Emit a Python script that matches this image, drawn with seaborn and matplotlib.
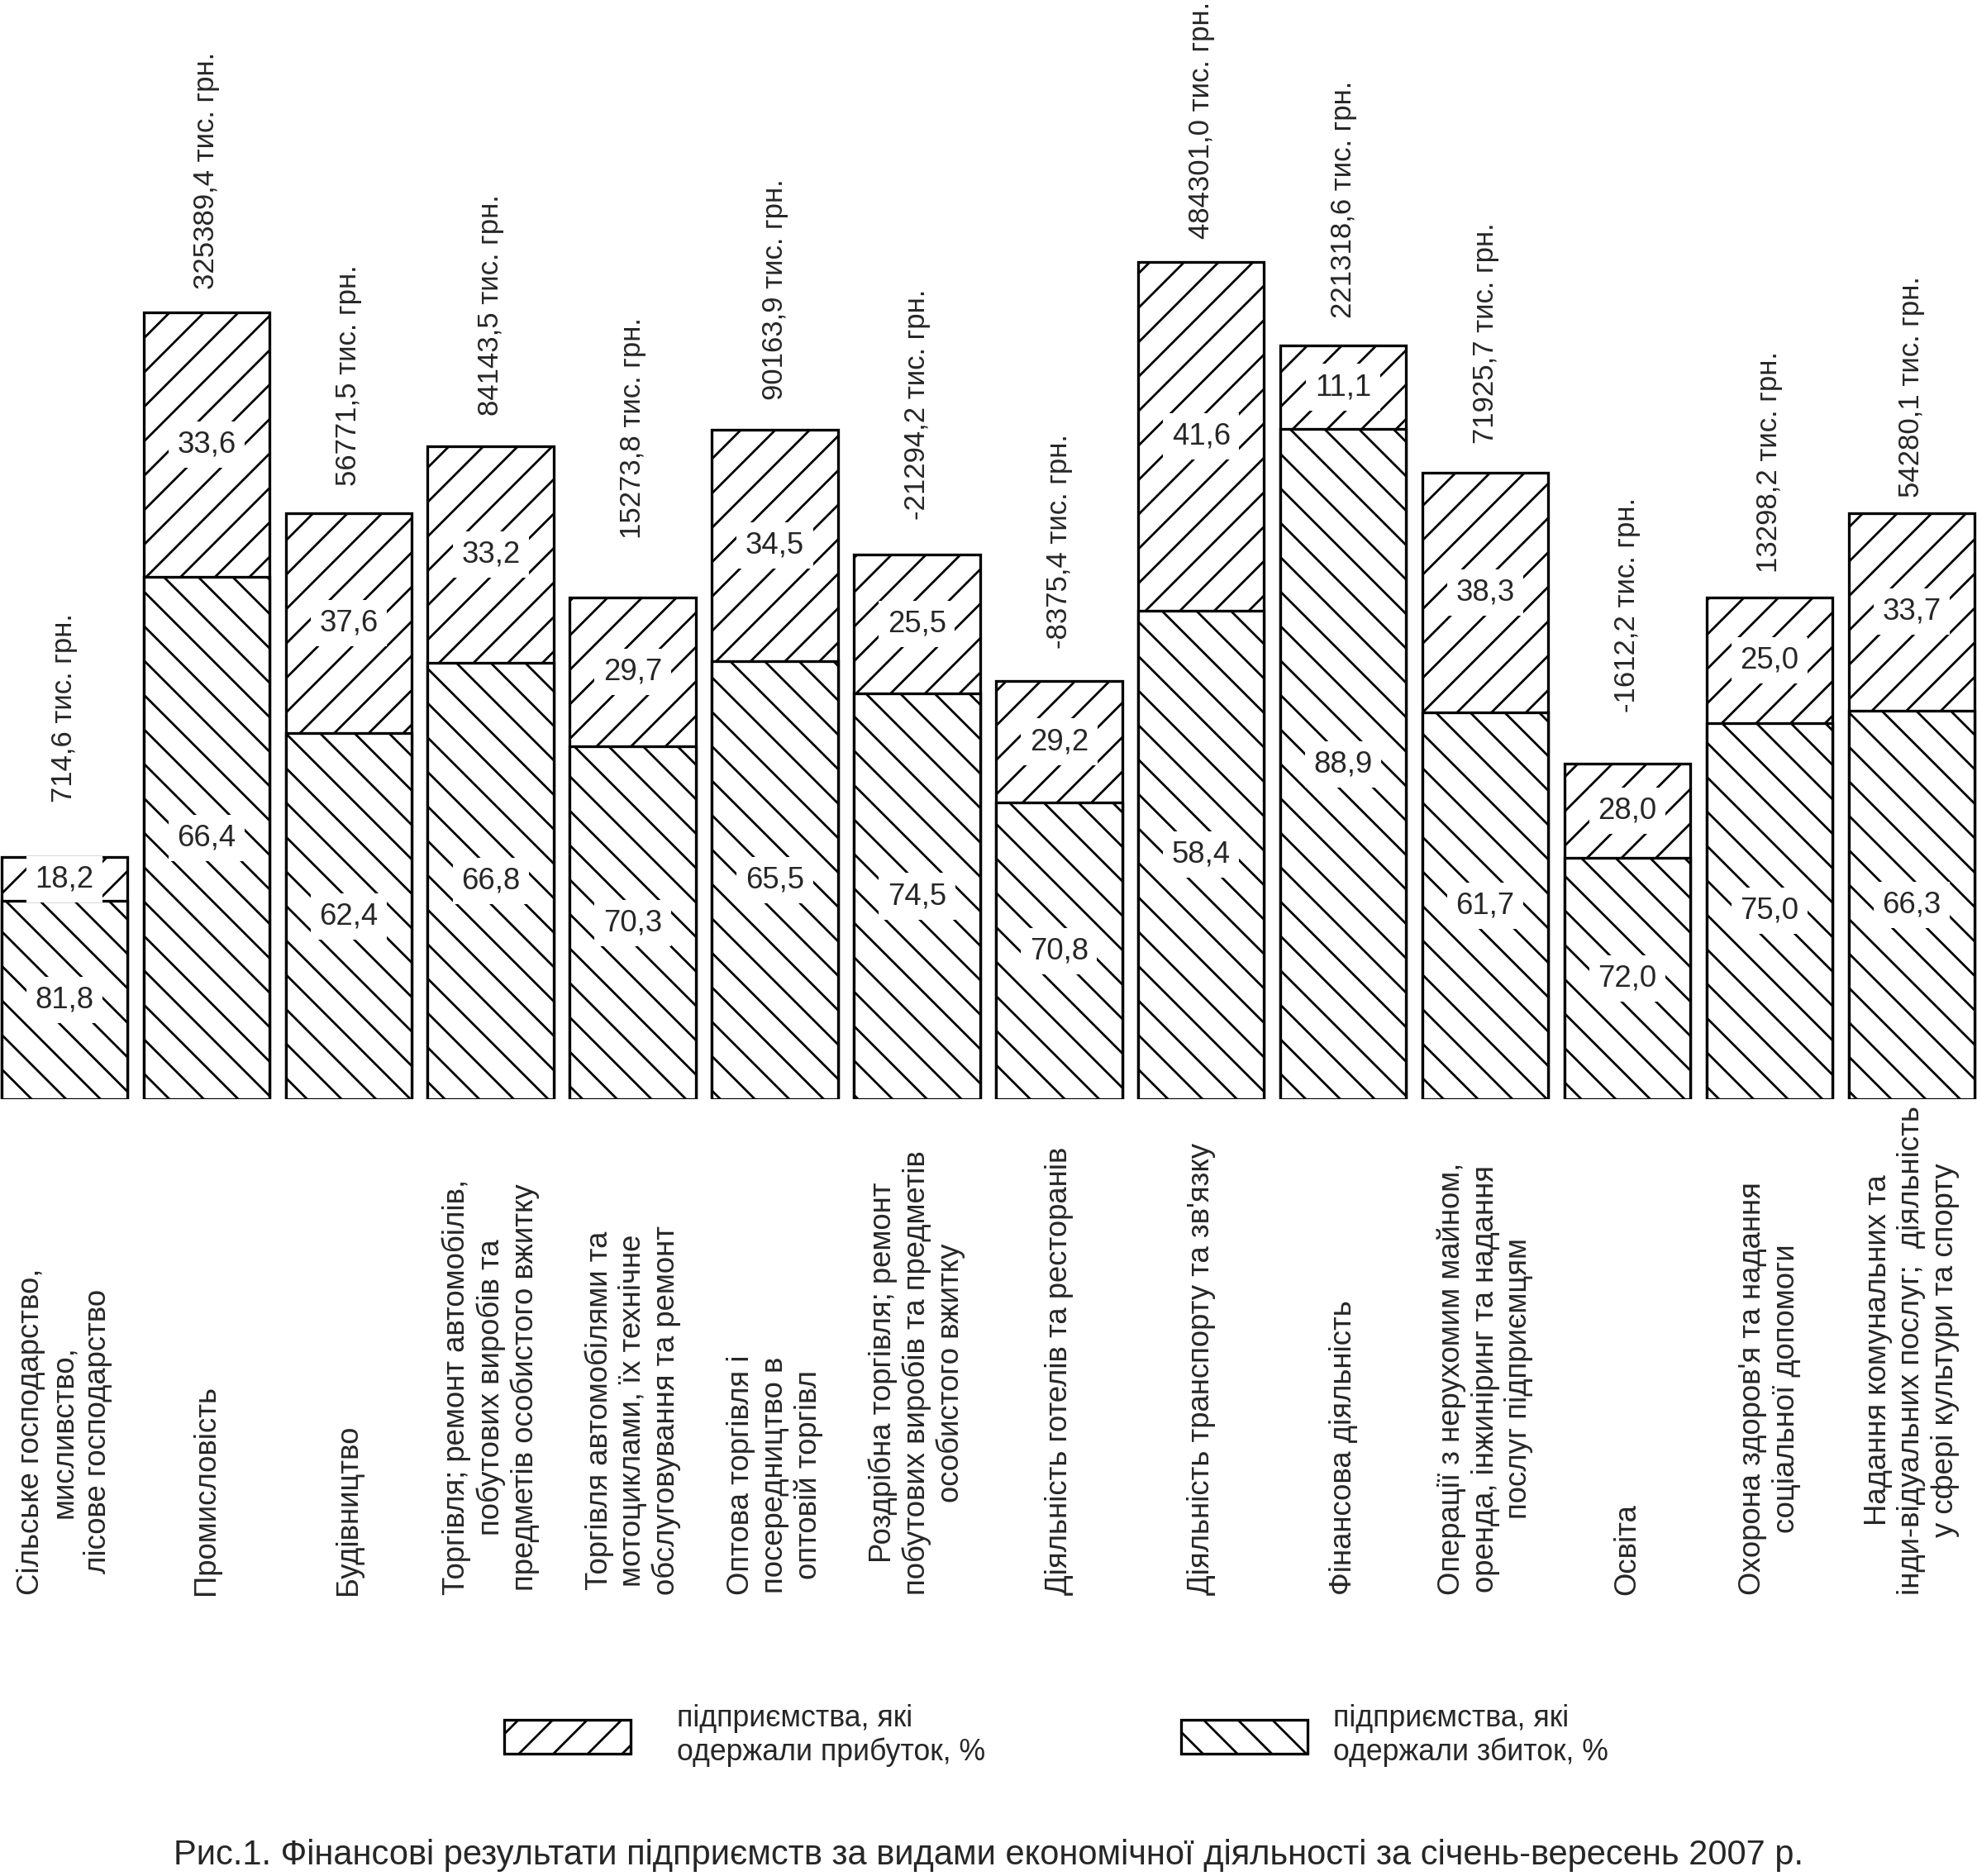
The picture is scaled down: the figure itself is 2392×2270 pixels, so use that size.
import matplotlib
matplotlib.use("Agg")
import matplotlib.pyplot as plt
from matplotlib.patches import Patch
from matplotlib.transforms import blended_transform_factory
import numpy as np
import pandas as pd
import seaborn as sns

# ---------------- data ----------------
categories = [
    "Сільське господарство,\nмисливство,\nлісове господарство",
    "Промисловість",
    "Будівництво",
    "Торгівля; ремонт автомобілів,\nпобутових виробів та\nпредметів особистого вжитку",
    "Торгівля автомобілями та\nмотоциклами, їх технічне\nобслуговування та ремонт",
    "Оптова торгівля і\nпосередництво в\nоптовій торгівл",
    "Роздрібна торгівля; ремонт\nпобутових виробів та предметів\nособистого вжитку",
    "Діяльність готелів та ресторанів",
    "Діяльність транспорту та зв'язку",
    "Фінансова діяльність",
    "Операції з нерухомим майном,\nоренда, інжиніринг та надання\nпослуг підприємцям",
    "Освіта",
    "Охорона здоров'я та надання\nсоціальної допомоги",
    "Надання комунальних та\nінди-відуальних послуг;  діяльність\nу сфері культури та спорту",
]
loss_pct = [81.8, 66.4, 62.4, 66.8, 70.3, 65.5, 74.5, 70.8, 58.4, 88.9, 61.7, 72.0, 75.0, 66.3]
profit_pct = [18.2, 33.6, 37.6, 33.2, 29.7, 34.5, 25.5, 29.2, 41.6, 11.1, 38.3, 28.0, 25.0, 33.7]
fin_result = [714.6, 325389.4, 56771.5, 84143.5, 15273.8, 90163.9, -21294.2,
              -8375.4, 484301.0, 221318.6, 71925.7, -1612.2, 13298.2, 54280.1]
# relative (schematic) total height of each bar as drawn in the original
bar_height = [192, 624, 465, 518, 398, 531, 432, 332, 664, 598, 497, 266, 398, 465]

title = ("Рис.1. Фінансові результати підприємств за видами економічної "
         "діяльності за січень-вересень 2007 р.")
legend_profit = "підприємства, які\nодержали прибуток, %"
legend_loss = "підприємства, які\nодержали збиток, %"

# ---------------- layout / style ----------------
W, H, DPI = 2392, 2270, 250
label_pad_pt = [19, 8, 9.5, 10.5, 20.5, 10.5, 12, 11, 8, 9.5, 10, 18, 8.5, 5.5]
HATCH_PROFIT = "//"
HATCH_LOSS = "\\\\"

sns.set_style("white")
plt.rcParams["font.family"] = ["Liberation Sans", "DejaVu Sans"]
plt.rcParams["hatch.linewidth"] = 0.8
plt.rcParams["hatch.color"] = "black"

fig = plt.figure(figsize=(W / DPI, H / DPI), dpi=DPI)
base_px = 1330
ax = fig.add_axes([0, 1 - base_px / H, 1, base_px / H])

df = pd.DataFrame({
    "idx": np.arange(len(categories)),
    "total": bar_height,
    "loss": np.array(bar_height) * np.array(loss_pct) / 100.0,
})

bar_w = 0.887
lw = 0.95
sns.barplot(data=df, x="idx", y="total", ax=ax, color="white", saturation=1,
            edgecolor="black", linewidth=lw, hatch=HATCH_PROFIT, width=bar_w,
            errorbar=None)
sns.barplot(data=df, x="idx", y="loss", ax=ax, color="white", saturation=1,
            edgecolor="black", linewidth=lw, hatch=HATCH_LOSS, width=bar_w,
            errorbar=None)

ax.set_xlim(-0.4537, 13.461)
ax.set_ylim(0, 872)
ax.set_axis_off()

fmt = lambda v: f"{v:.1f}".replace(".", ",")

for i in range(len(categories)):
    tot = bar_height[i]
    lh = df["loss"][i]
    # percentage labels inside segments
    ax.text(i, lh / 2, fmt(loss_pct[i]), ha="center", va="center", fontsize=10.5,
            zorder=5, bbox=dict(facecolor="white", edgecolor="none", pad=3))
    ax.text(i, lh + (tot - lh) / 2, fmt(profit_pct[i]), ha="center", va="center",
            fontsize=10.5, zorder=5,
            bbox=dict(facecolor="white", edgecolor="none", pad=3))
    # financial result above bar
    ax.annotate(f"{fmt(fin_result[i])} тис. грн.", xy=(i, tot),
                xytext=(0, label_pad_pt[i]), textcoords="offset points",
                rotation=90, rotation_mode="anchor", ha="left", va="center",
                fontsize=10, annotation_clip=False)

# category labels below the bars
tr = blended_transform_factory(ax.transData, fig.transFigure)
for i, cat in enumerate(categories):
    fig.text(i, 1 - 1930 / H, cat, transform=tr, rotation=90,
             rotation_mode="anchor", ha="left", va="center",
             multialignment="center", fontsize=10.5)

# legend
fs_leg = 10.25
em = fs_leg * DPI / 72
common = dict(frameon=False, borderpad=0, borderaxespad=0, fontsize=fs_leg,
              handlelength=153 / em, handleheight=49 / em, loc="center left")
h_profit = Patch(facecolor="white", edgecolor="black", hatch=HATCH_PROFIT, linewidth=lw)
h_loss = Patch(facecolor="white", edgecolor="black", hatch=HATCH_LOSS, linewidth=lw)
fig.legend([h_profit], [legend_profit], bbox_to_anchor=(610 / W, 1 - 2100 / H),
           handletextpad=56 / em, **common)
fig.legend([h_loss], [legend_loss], bbox_to_anchor=(1429 / W, 1 - 2100 / H),
           handletextpad=31 / em, **common)

fig.text(0.5, 1 - 2245 / H, title, ha="center", va="center", fontsize=12)

fig.savefig("out.png", dpi=DPI, facecolor="white")
